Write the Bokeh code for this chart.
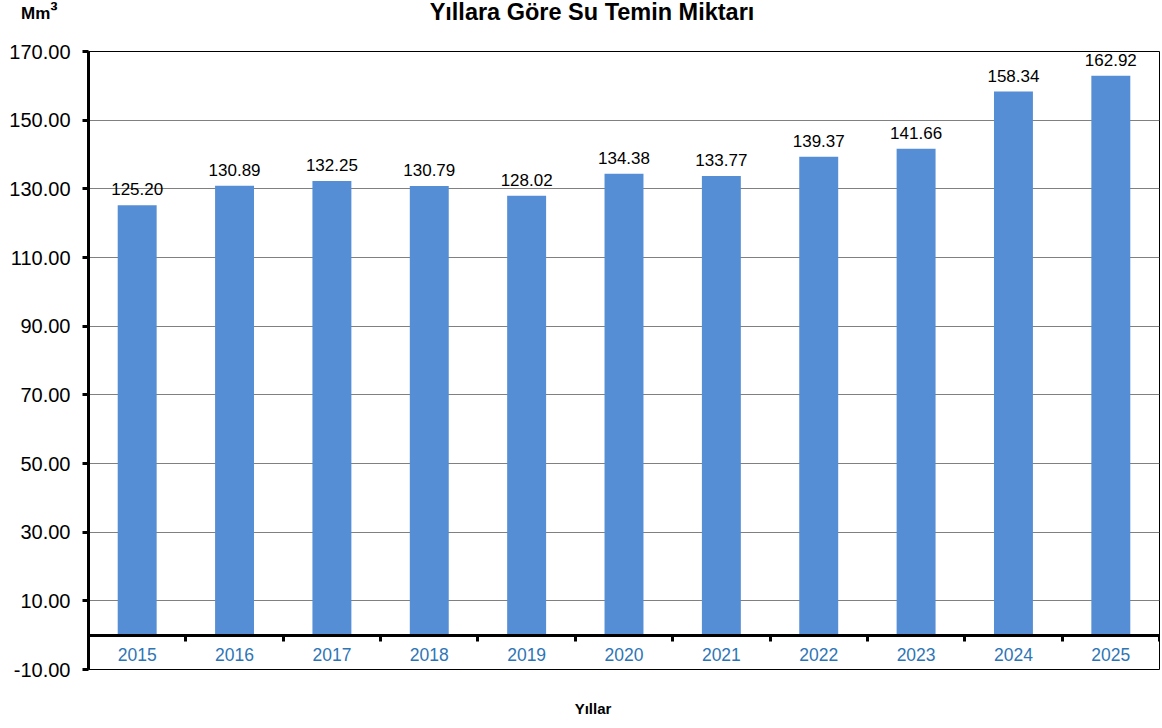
from bokeh.plotting import figure
from bokeh.models import (Range1d, LinearAxis, FixedTicker, PrintfTickFormatter,
                          ColumnDataSource, Div)
from bokeh.layouts import column
from bokeh.core.properties import value
from bokeh.embed import file_html
from bokeh.resources import INLINE

years = ["2015", "2016", "2017", "2018", "2019", "2020", "2021", "2022", "2023", "2024", "2025"]
supply = [125.20, 130.89, 132.25, 130.79, 128.02, 134.38, 133.77, 139.37, 141.66, 158.34, 162.92]
y_ticks = [-10, 10, 30, 50, 70, 90, 110, 130, 150, 170]

title_text = "Yıllara Göre Su Temin Miktarı"
unit_base = "Mm"
unit_sup = "³"
x_title = "Yıllar"

FONT = "Liberation Sans"
BAR = "#558ED5"
CAT = "#2E75B6"

n = len(years)
src = ColumnDataSource(dict(
    x=[i + 0.5 for i in range(n)],
    top=supply,
    lab=["%.2f" % v for v in supply],
    year=years,
    ycat=[-5.77] * n,
))

header_html = (
    '<div style="position:relative;width:1161px;height:34px;">'
    '<span style="position:absolute;left:21px;top:2px;font:bold 17px \'Liberation Sans\';'
    'line-height:20px;white-space:nowrap;color:#000;">' + unit_base +
    '<span style="font-size:22px;position:relative;top:-1px;">' + unit_sup + '</span></span>'
    '<span style="position:absolute;left:92px;top:0px;width:1000px;text-align:center;'
    'font:bold 23.5px \'Liberation Sans\';line-height:24px;white-space:nowrap;color:#000;">'
    + title_text + '</span></div>'
)
header = Div(text=header_html, width=1161, height=34, margin=0)

footer_html = (
    '<div style="position:relative;width:1161px;height:34px;">'
    '<span style="position:absolute;left:93px;top:5px;width:1000px;text-align:center;'
    'font:bold 15px \'Liberation Sans\';line-height:20px;white-space:nowrap;color:#000;">'
    + x_title + '</span></div>'
)
footer = Div(text=footer_html, width=1161, height=34, margin=0)

p = figure(width=1161, height=660, output_backend="svg", toolbar_location=None,
           x_range=Range1d(0, n), y_range=Range1d(-10, 170),
           x_axis_location=None, min_border_left=88, min_border_right=2,
           min_border_top=17, min_border_bottom=25, margin=0)
p.outline_line_color = "black"
p.outline_line_width = 1
p.xgrid.visible = False
p.ygrid.ticker = FixedTicker(ticks=y_ticks)
p.ygrid.grid_line_color = "#808080"
p.ygrid.grid_line_width = 1

ya = p.yaxis[0]
ya.ticker = FixedTicker(ticks=y_ticks)
ya.formatter = PrintfTickFormatter(format="%.2f")
ya.axis_line_width = 3
ya.axis_line_color = "black"
ya.major_tick_line_width = 3
ya.major_tick_out = 6
ya.major_tick_in = 0
ya.minor_tick_line_color = None
ya.major_label_text_font = FONT
ya.major_label_text_font_size = "20px"
ya.major_label_text_color = "black"
ya.major_label_standoff = 12

p.vbar(x="x", top="top", bottom=0, width=0.4, source=src, fill_color=BAR, line_color=None)

xa = LinearAxis(fixed_location=0, ticker=FixedTicker(ticks=list(range(n + 1))))
xa.axis_line_width = 3
xa.axis_line_color = "black"
xa.major_tick_line_width = 3
xa.major_tick_out = 6
xa.major_tick_in = 0
xa.minor_tick_line_color = None
xa.major_label_text_font_size = "0px"
xa.major_label_text_color = None
p.add_layout(xa, "below")

p.text(x="x", y="top", text="lab", source=src, text_align="center", text_baseline="alphabetic",
       y_offset=-16, text_font=value(FONT), text_font_size="17px", text_color="black")
p.text(x="x", y="ycat", text="year", source=src, text_align="center", text_baseline="middle",
       text_font=value(FONT), text_font_size="17.5px", text_color=CAT)

layout = column(header, p, footer, spacing=0)
open("out.html", "w").write(file_html(layout, INLINE))
